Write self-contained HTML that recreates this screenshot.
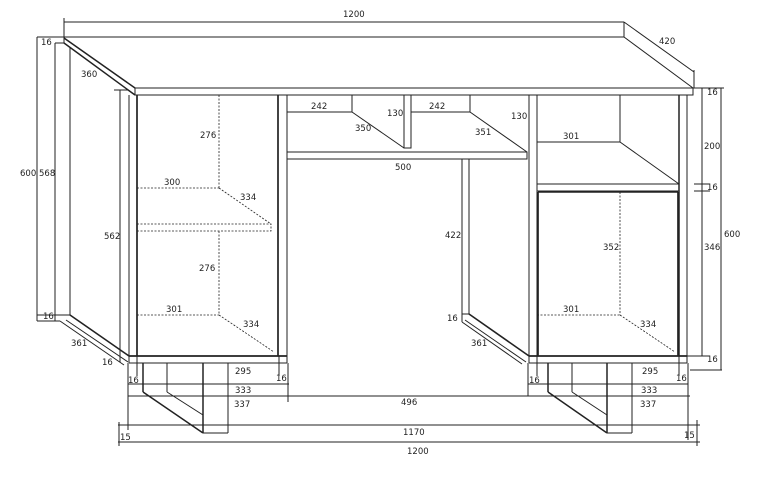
<!DOCTYPE html>
<html><head><meta charset="utf-8"><style>
html,body{margin:0;padding:0;background:#fff;}
svg{display:block;}
text{font-family:"DejaVu Sans","Liberation Sans",sans-serif;font-size:8.5px;fill:#222;}
</style></head><body>
<svg width="776" height="482" viewBox="0 0 776 482" xmlns="http://www.w3.org/2000/svg">
<g stroke="#222" stroke-width="1" fill="none">
<line x1="64" y1="22" x2="624" y2="22"/>
<line x1="64" y1="18" x2="64" y2="43"/>
<line x1="64" y1="37" x2="624" y2="37"/>
<line x1="624" y1="22" x2="624" y2="37"/>
<line x1="624" y1="22" x2="694" y2="72"/>
<line x1="694" y1="70" x2="694" y2="88"/>
<line x1="624" y1="37" x2="693" y2="88"/>
<line x1="64" y1="38" x2="135" y2="88" stroke-width="1.5"/>
<line x1="64" y1="43" x2="135" y2="95" stroke-width="1.5"/>
<rect x="135" y="88" width="558" height="7"/>
<line x1="55" y1="43" x2="55" y2="321"/>
<line x1="70" y1="48" x2="70" y2="315"/>
<line x1="37" y1="37" x2="64" y2="37"/>
<line x1="37" y1="37" x2="37" y2="321"/>
<line x1="55" y1="43" x2="64" y2="43"/>
<line x1="37" y1="315" x2="70" y2="315"/>
<line x1="37" y1="321" x2="60" y2="321"/>
<line x1="70" y1="315" x2="129" y2="356" stroke-width="1.6"/>
<line x1="60" y1="321" x2="124" y2="365"/>
<line x1="66" y1="320" x2="128" y2="362"/>
<line x1="120" y1="90" x2="120" y2="362"/>
<line x1="114" y1="90" x2="128" y2="90"/>
<line x1="129" y1="95" x2="129" y2="363"/>
<line x1="137" y1="95" x2="137" y2="356" stroke-width="1.7"/>
<line x1="278" y1="95" x2="278" y2="356" stroke-width="1.7"/>
<line x1="287" y1="95" x2="287" y2="363"/>
<line x1="129" y1="356" x2="287" y2="356" stroke-width="1.7"/>
<line x1="129" y1="363" x2="287" y2="363"/>
<g stroke-dasharray="2,1.5" stroke-width="0.8">
<line x1="219" y1="95" x2="219" y2="188"/>
<line x1="137" y1="188" x2="219" y2="188"/>
<line x1="219" y1="188" x2="271" y2="224"/>
<rect x="137" y="224" width="134" height="7"/>
<line x1="219" y1="231" x2="219" y2="315"/>
<line x1="137" y1="315" x2="219" y2="315"/>
<line x1="219" y1="315" x2="274" y2="352"/>
</g>
<rect x="287" y="95" width="65" height="17"/>
<line x1="352" y1="112" x2="404" y2="148"/>
<rect x="404" y="95" width="7" height="53"/>
<rect x="411" y="95" width="59" height="17"/>
<line x1="470" y1="112" x2="527" y2="152"/>
<rect x="287" y="152" width="240" height="7"/>
<line x1="462" y1="159" x2="462" y2="322"/>
<line x1="469" y1="159" x2="469" y2="314"/>
<line x1="462" y1="314" x2="469" y2="314"/>
<line x1="469" y1="314" x2="529" y2="356" stroke-width="1.6"/>
<line x1="462" y1="322" x2="522" y2="364"/>
<line x1="465" y1="320" x2="526" y2="362"/>
<line x1="529" y1="95" x2="529" y2="363"/>
<line x1="537" y1="95" x2="537" y2="356"/>
<line x1="679" y1="95" x2="679" y2="356" stroke-width="1.5"/>
<line x1="687" y1="95" x2="687" y2="363"/>
<line x1="537" y1="142" x2="620" y2="142"/>
<line x1="620" y1="95" x2="620" y2="142"/>
<line x1="620" y1="142" x2="679" y2="184"/>
<rect x="537" y="184" width="142" height="7"/>
<line x1="538" y1="192" x2="538" y2="356" stroke-width="1.7"/>
<line x1="678" y1="192" x2="678" y2="356" stroke-width="1.7"/>
<line x1="538" y1="192" x2="678" y2="192" stroke-width="1.5"/>
<g stroke-dasharray="2,1.5" stroke-width="0.8">
<line x1="620" y1="192" x2="620" y2="315"/>
<line x1="537" y1="315" x2="620" y2="315"/>
<line x1="620" y1="315" x2="675" y2="352"/>
</g>
<line x1="529" y1="356" x2="687" y2="356" stroke-width="1.7"/>
<line x1="529" y1="363" x2="687" y2="363"/>
<line x1="687" y1="88" x2="724" y2="88"/>
<line x1="702" y1="88" x2="702" y2="356"/>
<line x1="721" y1="88" x2="721" y2="370"/>
<line x1="694" y1="184" x2="710" y2="184"/>
<line x1="694" y1="191" x2="710" y2="191"/>
<line x1="687" y1="356" x2="710" y2="356"/>
<line x1="690" y1="370" x2="722" y2="370"/>
<line x1="143" y1="363" x2="143" y2="392" stroke-width="1.5"/>
<line x1="143" y1="392" x2="203" y2="433" stroke-width="1.5"/>
<line x1="167" y1="363" x2="167" y2="392"/>
<line x1="167" y1="392" x2="203" y2="415"/>
<line x1="203" y1="363" x2="203" y2="433" stroke-width="1.5"/>
<line x1="228" y1="363" x2="228" y2="433"/>
<line x1="203" y1="433" x2="228" y2="433"/>
<line x1="548" y1="363" x2="548" y2="392" stroke-width="1.5"/>
<line x1="548" y1="392" x2="607" y2="433" stroke-width="1.5"/>
<line x1="572" y1="363" x2="572" y2="392"/>
<line x1="572" y1="392" x2="607" y2="415"/>
<line x1="607" y1="363" x2="607" y2="433" stroke-width="1.5"/>
<line x1="632" y1="363" x2="632" y2="433"/>
<line x1="607" y1="433" x2="632" y2="433"/>
<line x1="128" y1="363" x2="128" y2="430"/>
<line x1="137" y1="356" x2="137" y2="376"/>
<line x1="279" y1="356" x2="279" y2="376"/>
<line x1="288" y1="363" x2="288" y2="402"/>
<line x1="128" y1="384" x2="289" y2="384"/>
<line x1="128" y1="396" x2="690" y2="396"/>
<line x1="118" y1="425" x2="700" y2="425"/>
<line x1="118" y1="442" x2="700" y2="442"/>
<line x1="119" y1="422" x2="119" y2="446"/>
<line x1="528" y1="363" x2="528" y2="396"/>
<line x1="537" y1="356" x2="537" y2="376"/>
<line x1="679" y1="356" x2="679" y2="376"/>
<line x1="528" y1="384" x2="688" y2="384"/>
<line x1="688" y1="363" x2="688" y2="440"/>
<line x1="697" y1="420" x2="697" y2="446"/>
</g>
<text x="343" y="17">1200</text>
<text x="659" y="44">420</text>
<text x="41" y="45">16</text>
<text x="81" y="77">360</text>
<text x="20" y="176">600</text>
<text x="39" y="176">568</text>
<text x="104" y="239">562</text>
<text x="200" y="138">276</text>
<text x="164" y="185">300</text>
<text x="240" y="200">334</text>
<text x="199" y="271">276</text>
<text x="166" y="312">301</text>
<text x="243" y="327">334</text>
<text x="43" y="319">16</text>
<text x="71" y="346">361</text>
<text x="102" y="365">16</text>
<text x="311" y="109">242</text>
<text x="355" y="131">350</text>
<text x="387" y="116">130</text>
<text x="429" y="109">242</text>
<text x="475" y="135">351</text>
<text x="511" y="119">130</text>
<text x="395" y="170">500</text>
<text x="445" y="238">422</text>
<text x="447" y="321">16</text>
<text x="471" y="346">361</text>
<text x="563" y="139">301</text>
<text x="603" y="250">352</text>
<text x="563" y="312">301</text>
<text x="640" y="327">334</text>
<text x="707" y="95">16</text>
<text x="704" y="149">200</text>
<text x="707" y="190">16</text>
<text x="704" y="250">346</text>
<text x="724" y="237">600</text>
<text x="707" y="362">16</text>
<text x="235" y="374">295</text>
<text x="128" y="383">16</text>
<text x="276" y="381">16</text>
<text x="235" y="393">333</text>
<text x="234" y="407">337</text>
<text x="401" y="405">496</text>
<text x="403" y="435">1170</text>
<text x="407" y="454">1200</text>
<text x="120" y="440">15</text>
<text x="642" y="374">295</text>
<text x="529" y="383">16</text>
<text x="676" y="381">16</text>
<text x="641" y="393">333</text>
<text x="640" y="407">337</text>
<text x="684" y="438">15</text>
</svg>
</body></html>
